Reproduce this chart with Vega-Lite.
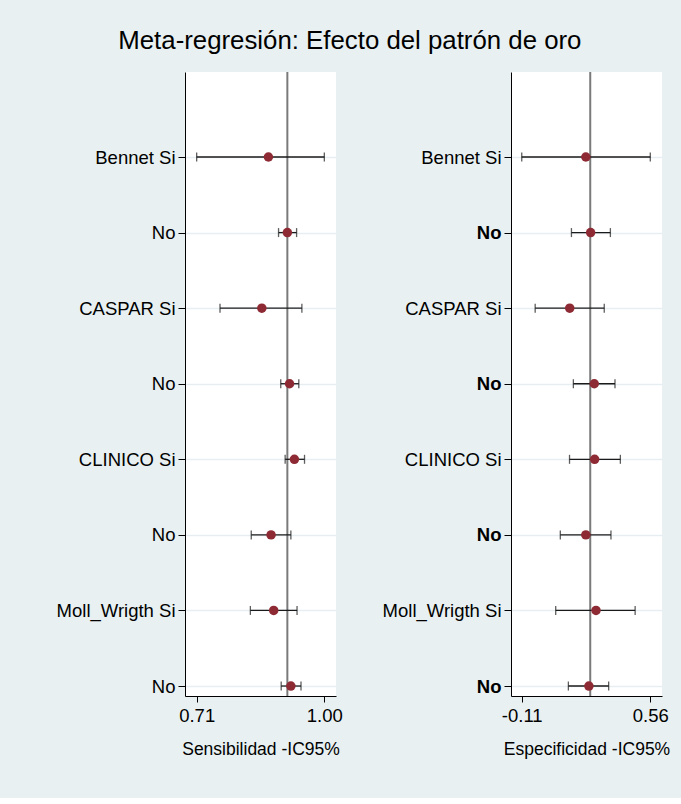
{
  "$schema": "https://vega.github.io/schema/vega-lite/v6.json",
  "background": "#E8F0F2",
  "padding": {"left": 56, "top": 28, "right": 20, "bottom": 40},
  "title": {"text": "Meta-regresión: Efecto del patrón de oro", "fontSize": 25.8, "font": "Liberation Sans", "fontWeight": "normal", "color": "#000000", "anchor": "middle", "dx": -13, "offset": 16},
  "datasets": {
    "d": [
      {"panel": "sens", "row": 1, "label": "Bennet Si", "est": 0.873, "lo": 0.71, "hi": 1.0},
      {"panel": "sens", "row": 2, "label": "No", "est": 0.916, "lo": 0.896, "hi": 0.937},
      {"panel": "sens", "row": 3, "label": "CASPAR Si", "est": 0.858, "lo": 0.763, "hi": 0.949},
      {"panel": "sens", "row": 4, "label": "No", "est": 0.921, "lo": 0.901, "hi": 0.942},
      {"panel": "sens", "row": 5, "label": "CLINICO Si", "est": 0.932, "lo": 0.911, "hi": 0.955},
      {"panel": "sens", "row": 6, "label": "No", "est": 0.879, "lo": 0.834, "hi": 0.924},
      {"panel": "sens", "row": 7, "label": "Moll_Wrigth Si", "est": 0.885, "lo": 0.832, "hi": 0.938},
      {"panel": "sens", "row": 8, "label": "No", "est": 0.924, "lo": 0.902, "hi": 0.947},
      {"panel": "spec", "row": 1, "label": "Bennet Si", "est": 0.224, "lo": -0.11, "hi": 0.56},
      {"panel": "spec", "row": 2, "label": "No", "est": 0.249, "lo": 0.149, "hi": 0.352},
      {"panel": "spec", "row": 3, "label": "CASPAR Si", "est": 0.14, "lo": -0.04, "hi": 0.32},
      {"panel": "spec", "row": 4, "label": "No", "est": 0.268, "lo": 0.159, "hi": 0.376},
      {"panel": "spec", "row": 5, "label": "CLINICO Si", "est": 0.27, "lo": 0.139, "hi": 0.404},
      {"panel": "spec", "row": 6, "label": "No", "est": 0.224, "lo": 0.091, "hi": 0.355},
      {"panel": "spec", "row": 7, "label": "Moll_Wrigth Si", "est": 0.277, "lo": 0.067, "hi": 0.481},
      {"panel": "spec", "row": 8, "label": "No", "est": 0.24, "lo": 0.133, "hi": 0.343}
    ],
    "refs": [
      {"panel": "sens", "ref": 0.916},
      {"panel": "spec", "ref": 0.247}
    ]
  },
  "config": {
    "view": {"stroke": null, "fill": "#ffffff"},
    "font": "Liberation Sans",
    "axis": {
      "domainColor": "#000000", "tickColor": "#000000", "labelColor": "#000000", "titleColor": "#000000",
      "labelFont": "Liberation Sans", "titleFont": "Liberation Sans",
      "labelFontSize": 18.5, "titleFontSize": 17.5, "titleFontWeight": "normal"
    },
    "axisY": {"tickSize": 7, "labelPadding": 3, "grid": true, "gridColor": "#E6EEF1", "gridWidth": 1.5, "title": null},
    "axisX": {"grid": false, "tickSize": 6, "labelPadding": 4, "titlePadding": 16, "format": ".2f"}
  },
  "spacing": 175,
  "bounds": "flush",
  "hconcat": [
    {
      "width": 151, "height": 624,
      "layer": [
        {
          "data": {"name": "refs"},
          "transform": [{"filter": "datum.panel == 'sens'"}],
          "mark": {"type": "rule", "color": "#7A7A7A", "strokeWidth": 2},
          "encoding": {"x": {"field": "ref", "type": "quantitative", "title": "Sensibilidad -IC95%", "scale": {"domain": [0.6835, 1.0265], "nice": false, "zero": false},
                  "axis": {"values": [0.71, 1.0], "title": "Sensibilidad -IC95%"}}}
        },
        {
          "data": {"name": "d"},
          "transform": [{"filter": "datum.panel == 'sens'"}],
          "mark": {"type": "errorbar", "ticks": {"size": 9, "thickness": 1.3}, "rule": {"strokeWidth": 1.3}, "color": "#1A1A1A"},
          "encoding": {
            "x": {"field": "lo", "type": "quantitative", "title": "Sensibilidad -IC95%"},
            "x2": {"field": "hi"},
            "y": {"field": "row", "type": "quantitative", "title": null}
          }
        },
        {
          "data": {"name": "d"},
          "transform": [{"filter": "datum.panel == 'sens'"}],
          "mark": {"type": "point", "filled": true, "size": 90, "color": "#8E2A33", "opacity": 1},
          "encoding": {
            "x": {"field": "est", "type": "quantitative", "title": "Sensibilidad -IC95%"},
            "y": {"field": "row", "type": "quantitative", "title": null, "scale": {"domain": [-0.125, 8.132], "reverse": true, "nice": false, "zero": false},
                  "axis": {"values": [1, 2, 3, 4, 5, 6, 7, 8], "labelExpr": "['', 'Bennet Si', 'No', 'CASPAR Si', 'No', 'CLINICO Si', 'No', 'Moll_Wrigth Si', 'No'][datum.value]"}}
          }
        }
      ]
    },
    {
      "width": 151, "height": 624,
      "layer": [
        {
          "data": {"name": "refs"},
          "transform": [{"filter": "datum.panel == 'spec'"}],
          "mark": {"type": "rule", "color": "#7A7A7A", "strokeWidth": 2},
          "encoding": {"x": {"field": "ref", "type": "quantitative", "title": "Especificidad -IC95%", "scale": {"domain": [-0.166, 0.621], "nice": false, "zero": false},
                  "axis": {"values": [-0.11, 0.56], "title": "Especificidad -IC95%",
                           "labelExpr": "datum.value < 0 ? '-' + format(-datum.value, '.2f') : format(datum.value, '.2f')"}}}
        },
        {
          "data": {"name": "d"},
          "transform": [{"filter": "datum.panel == 'spec'"}],
          "mark": {"type": "errorbar", "ticks": {"size": 9, "thickness": 1.3}, "rule": {"strokeWidth": 1.3}, "color": "#1A1A1A"},
          "encoding": {
            "x": {"field": "lo", "type": "quantitative", "title": "Especificidad -IC95%"},
            "x2": {"field": "hi"},
            "y": {"field": "row", "type": "quantitative", "title": null}
          }
        },
        {
          "data": {"name": "d"},
          "transform": [{"filter": "datum.panel == 'spec'"}],
          "mark": {"type": "point", "filled": true, "size": 90, "color": "#8E2A33", "opacity": 1},
          "encoding": {
            "x": {"field": "est", "type": "quantitative", "title": "Especificidad -IC95%"},
            "y": {"field": "row", "type": "quantitative", "title": null, "scale": {"domain": [-0.125, 8.132], "reverse": true, "nice": false, "zero": false},
                  "axis": {"values": [1, 2, 3, 4, 5, 6, 7, 8], "labelExpr": "['', 'Bennet Si', 'No', 'CASPAR Si', 'No', 'CLINICO Si', 'No', 'Moll_Wrigth Si', 'No'][datum.value]",
                           "labelFontWeight": {"condition": {"test": "datum.value % 2 == 0", "value": "bold"}, "value": "normal"}}}
          }
        }
      ]
    }
  ]
}
